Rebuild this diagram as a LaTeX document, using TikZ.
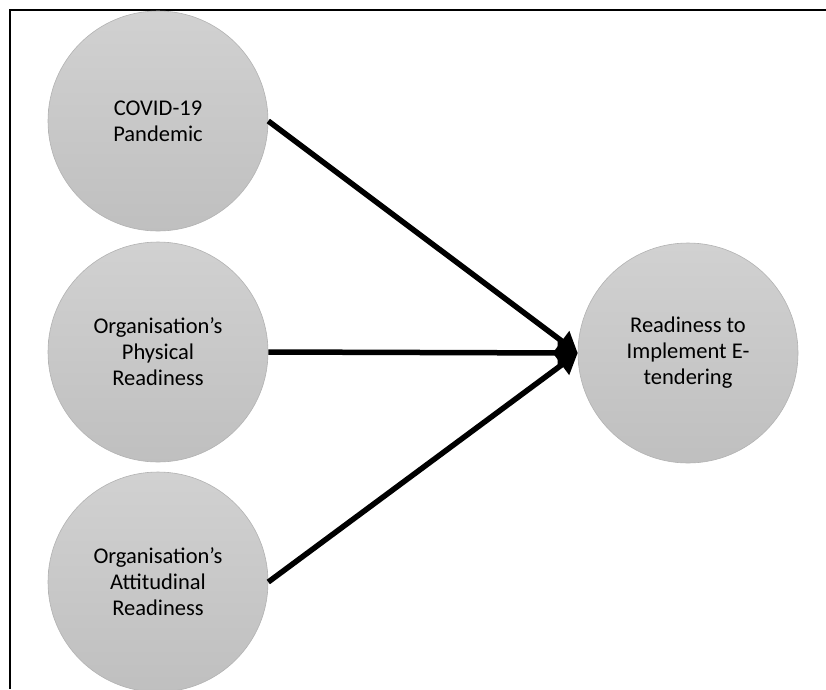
\documentclass[tikz,border=0pt]{standalone}
\usepackage{fontspec}
\setmainfont{Carlito}
\usetikzlibrary{arrows.meta}

\tikzset{
  factor/.style={circle, minimum size=220pt, inner sep=0pt, align=center,
    draw=gray!60, line width=0.6pt, top color=black!18, bottom color=black!25,
    font=\fontsize{22.5}{26}\selectfont},
  link/.style={line width=5.5pt, -{Triangle[length=20pt,width=24pt]}}
}

\begin{document}
\begin{tikzpicture}[x=1pt, y=-1pt]

\useasboundingbox (0,0) rectangle (826,689);
\clip (0,0) rectangle (826,689);

% Frame
\draw[line width=2.5pt] (826,10) -- (10,10) -- (10,689);

% Nodes
\node[factor] (covid) at (158,121) {COVID-19\\Pandemic};
\node[factor] (physical) at (158,352) {Organisation’s\\Physical\\Readiness};
\node[factor] (attitudinal) at (158,582) {Organisation’s\\Attitudinal\\Readiness};
\node[factor] (etender) at (688,353) {Readiness to\\Implement E-\\tendering};

% Arrows
\draw[link] (covid.east) -- (etender.west);
\draw[link] (physical.east) -- (etender.west);
\draw[link] (attitudinal.east) -- (etender.west);

\end{tikzpicture}
\end{document}
